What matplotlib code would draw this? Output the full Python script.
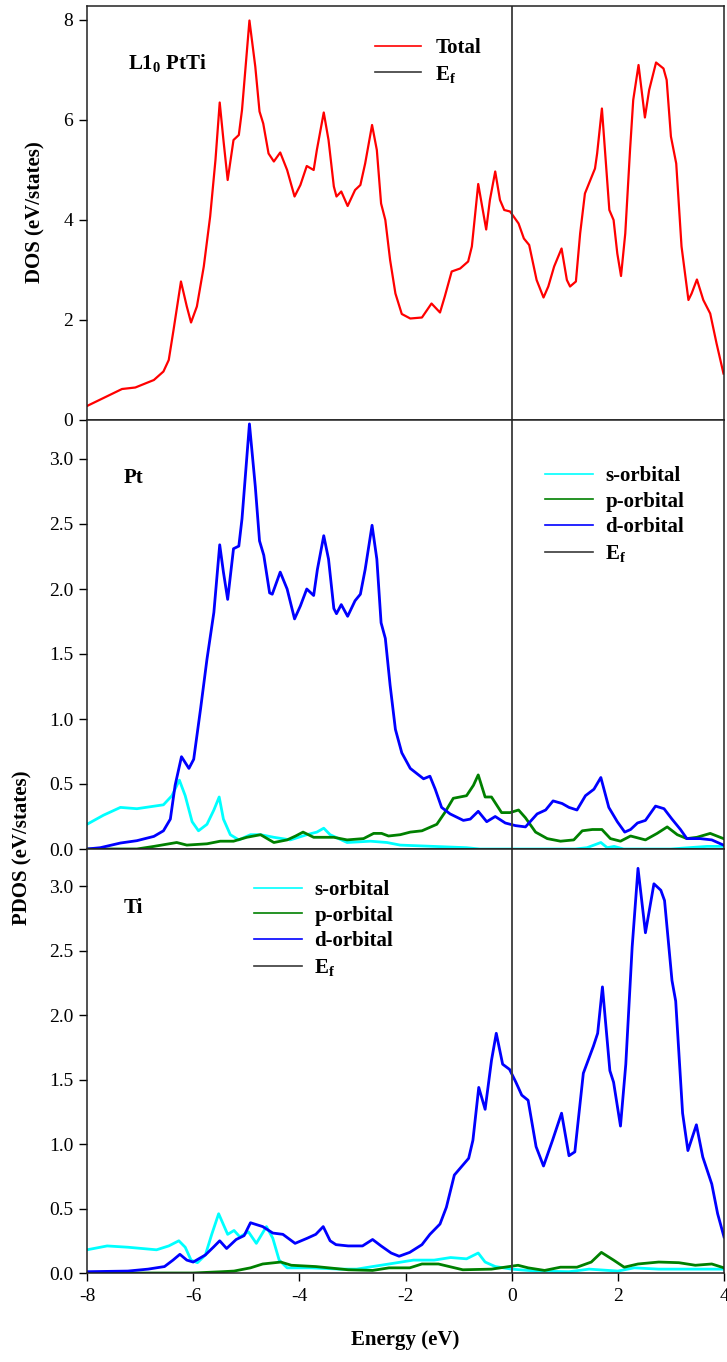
import matplotlib
matplotlib.use("Agg")
import matplotlib.pyplot as plt
from matplotlib.ticker import FormatStrFormatter, MultipleLocator

plt.rcParams['font.family'] = 'Liberation Serif'
plt.rcParams['mathtext.fontset'] = 'custom'
plt.rcParams['mathtext.rm'] = 'Liberation Serif'
plt.rcParams['mathtext.bf'] = 'Liberation Serif:bold'
plt.rcParams['axes.unicode_minus'] = False

# ---- total DOS (L1_0 PtTi) ----
tot_e = [-8.0, -7.34, -7.09, -6.74, -6.56, -6.46, -6.37, -6.23, -6.12, -6.04, -5.93, -5.80,
         -5.68, -5.58, -5.50, -5.43, -5.35, -5.24, -5.14, -5.08, -4.94, -4.83, -4.75, -4.68,
         -4.58, -4.48, -4.36, -4.23, -4.09, -3.98, -3.86, -3.73, -3.67, -3.54, -3.45, -3.35,
         -3.30, -3.21, -3.09, -2.95, -2.85, -2.76, -2.63, -2.54, -2.46, -2.38, -2.29, -2.19,
         -2.07, -1.91, -1.69, -1.51, -1.35, -1.26, -1.13, -0.97, -0.82, -0.75, -0.63, -0.48,
         -0.41, -0.31, -0.22, -0.14, -0.03, 0.13, 0.23, 0.33, 0.47, 0.60, 0.69, 0.80, 0.94,
         1.04, 1.10, 1.21, 1.29, 1.38, 1.57, 1.61, 1.70, 1.78, 1.84, 1.92, 1.99, 2.06, 2.14,
         2.23, 2.29, 2.39, 2.51, 2.59, 2.72, 2.86, 2.92, 3.00, 3.10, 3.20, 3.33, 3.39, 3.49,
         3.61, 3.74, 3.86, 3.99]
tot_dos = [0.28, 0.62, 0.65, 0.80, 0.97, 1.20, 1.80, 2.77, 2.27, 1.95, 2.27, 3.07,
           4.07, 5.20, 6.35, 5.60, 4.80, 5.60, 5.70, 6.20, 7.99, 7.07, 6.17, 5.93,
           5.33, 5.17, 5.35, 5.00, 4.47, 4.70, 5.08, 5.00, 5.40, 6.15, 5.60, 4.67,
           4.47, 4.57, 4.28, 4.60, 4.70, 5.13, 5.90, 5.40, 4.33, 4.00, 3.20, 2.53,
           2.12, 2.03, 2.05, 2.33, 2.15, 2.47, 2.97, 3.03, 3.17, 3.47, 4.72, 3.81,
           4.40, 4.97, 4.40, 4.20, 4.17, 3.93, 3.63, 3.50, 2.80, 2.45, 2.67, 3.07, 3.43,
           2.80, 2.67, 2.77, 3.73, 4.53, 5.03, 5.33, 6.23, 5.07, 4.20, 4.00, 3.33, 2.88, 3.73,
           5.40, 6.40, 7.10, 6.05, 6.60, 7.15, 7.03, 6.80, 5.67, 5.13, 3.47, 2.40, 2.53, 2.81,
           2.40, 2.13, 1.53, 0.93]

# ---- Pt projected DOS ----
pt_d_e = [-8.0, -7.75, -7.37, -7.06, -6.74, -6.56, -6.43, -6.34, -6.22, -6.08, -5.99, -5.86,
          -5.74, -5.61, -5.50, -5.43, -5.35, -5.24, -5.14, -5.08, -4.94, -4.83, -4.75, -4.67,
          -4.56, -4.51, -4.36, -4.23, -4.09, -3.98, -3.86, -3.73, -3.66, -3.54, -3.45, -3.35,
          -3.30, -3.21, -3.09, -2.95, -2.85, -2.76, -2.63, -2.54, -2.46, -2.38, -2.29, -2.19,
          -2.07, -1.91, -1.66, -1.54, -1.44, -1.32, -1.16, -0.91, -0.78, -0.63, -0.47, -0.31,
          -0.12, 0.07, 0.26, 0.48, 0.64, 0.78, 0.95, 1.08, 1.23, 1.39, 1.55, 1.68, 1.83, 1.99,
          2.13, 2.24, 2.37, 2.52, 2.71, 2.87, 3.02, 3.18, 3.30, 3.55, 3.77, 3.99]
pt_d = [0.0, 0.01, 0.046, 0.064, 0.097, 0.14, 0.23, 0.49, 0.71, 0.62, 0.69, 1.08,
        1.46, 1.82, 2.34, 2.13, 1.92, 2.31, 2.33, 2.54, 3.27, 2.79, 2.37, 2.26,
        1.97, 1.96, 2.13, 2.00, 1.77, 1.87, 2.00, 1.95, 2.15, 2.41, 2.23, 1.85,
        1.81, 1.88, 1.79, 1.91, 1.96, 2.15, 2.49, 2.23, 1.74, 1.62, 1.26, 0.92,
        0.74, 0.62, 0.54, 0.56, 0.46, 0.32, 0.27, 0.22, 0.23, 0.29, 0.21, 0.25,
        0.20, 0.18, 0.17, 0.27, 0.30, 0.37, 0.35, 0.32, 0.30, 0.41, 0.46, 0.55, 0.32, 0.21,
        0.13, 0.15, 0.20, 0.22, 0.33, 0.31, 0.23, 0.15, 0.08, 0.08, 0.07, 0.03]

pt_p_e = [-8.0, -7.06, -6.74, -6.31, -6.12, -5.74, -5.49, -5.24, -4.99, -4.73, -4.48, -4.23,
          -4.07, -3.93, -3.73, -3.35, -3.10, -2.79, -2.60, -2.45, -2.32, -2.10, -1.91, -1.69,
          -1.41, -1.26, -1.10, -0.85, -0.72, -0.63, -0.50, -0.38, -0.19, -0.03, 0.13, 0.26,
          0.45, 0.67, 0.92, 1.17, 1.33, 1.52, 1.70, 1.86, 2.05, 2.24, 2.52, 2.74, 2.93, 3.12,
          3.30, 3.49, 3.74, 3.99]
pt_p = [0.0, 0.0, 0.02, 0.05, 0.03, 0.04, 0.06, 0.06, 0.09, 0.11, 0.05, 0.07,
        0.10, 0.13, 0.09, 0.09, 0.07, 0.08, 0.12, 0.12, 0.10, 0.11, 0.13, 0.14,
        0.19, 0.28, 0.39, 0.41, 0.49, 0.57, 0.40, 0.40, 0.28, 0.28, 0.30, 0.24,
        0.13, 0.08, 0.06, 0.07, 0.14, 0.15, 0.15, 0.08, 0.06, 0.10, 0.07, 0.12, 0.17, 0.11,
        0.08, 0.09, 0.12, 0.08]

pt_s_e = [-8.0, -7.69, -7.37, -7.06, -6.56, -6.40, -6.26, -6.15, -6.02, -5.90, -5.74, -5.61,
          -5.51, -5.43, -5.30, -5.14, -4.92, -4.73, -4.48, -4.17, -3.86, -3.67, -3.54, -3.42,
          -3.10, -2.66, -2.35, -2.10, -1.47, -0.85, -0.60, 0.5, 1.20, 1.42, 1.68, 1.80, 1.93,
          2.11, 3.0, 3.68, 3.99]
pt_s = [0.19, 0.26, 0.32, 0.31, 0.34, 0.41, 0.53, 0.41, 0.21, 0.14, 0.19, 0.30,
        0.40, 0.23, 0.11, 0.07, 0.11, 0.11, 0.09, 0.07, 0.11, 0.13, 0.16, 0.11,
        0.05, 0.06, 0.05, 0.03, 0.02, 0.01, 0.0, 0.0, 0.0, 0.01, 0.05, 0.01, 0.02,
        0.0, 0.0, 0.02, 0.02]

# ---- Ti projected DOS ----
ti_d_e = [-8.0, -7.23, -6.85, -6.54, -6.38, -6.25, -6.12, -6.0, -5.77, -5.62, -5.50, -5.37,
          -5.19, -5.04, -4.92, -4.69, -4.50, -4.31, -4.08, -3.85, -3.69, -3.55, -3.42, -3.31,
          -3.08, -2.81, -2.62, -2.46, -2.27, -2.12, -1.92, -1.69, -1.54, -1.35, -1.23, -1.08,
          -0.81, -0.73, -0.62, -0.50, -0.38, -0.29, -0.17, -0.04, 0.08, 0.19, 0.31, 0.46, 0.60,
          0.77, 0.94, 1.08, 1.19, 1.35, 1.54, 1.62, 1.71, 1.85, 1.92, 2.05, 2.15, 2.27, 2.38,
          2.52, 2.68, 2.81, 2.88, 3.02, 3.09, 3.22, 3.32, 3.48, 3.60, 3.77, 3.88, 4.0]
ti_d = [0.01, 0.015, 0.03, 0.05, 0.10, 0.145, 0.10, 0.085, 0.14, 0.20, 0.25, 0.19,
        0.26, 0.29, 0.39, 0.36, 0.31, 0.30, 0.23, 0.27, 0.30, 0.36, 0.25, 0.22,
        0.21, 0.21, 0.26, 0.21, 0.155, 0.13, 0.16, 0.22, 0.30, 0.38, 0.51, 0.76,
        0.89, 1.03, 1.44, 1.27, 1.65, 1.86, 1.62, 1.58, 1.48, 1.38, 1.34, 0.98, 0.83,
        1.03, 1.24, 0.91, 0.94, 1.55, 1.76, 1.86, 2.22, 1.57, 1.48, 1.14, 1.62, 2.53, 3.14,
        2.64, 3.02, 2.97, 2.89, 2.27, 2.11, 1.24, 0.95, 1.15, 0.90, 0.69, 0.46, 0.28]

ti_s_e = [-8.0, -7.62, -7.23, -6.69, -6.46, -6.27, -6.15, -6.04, -5.92, -5.77, -5.65, -5.52,
          -5.35, -5.23, -5.12, -4.96, -4.81, -4.62, -4.50, -4.38, -4.23, -3.77, -3.23, -2.92,
          -2.62, -2.31, -1.85, -1.46, -1.15, -0.85, -0.63, -0.50, -0.31, 0.0, 0.46, 1.08,
          1.46, 2.0, 2.31, 2.77, 3.23, 4.0]
ti_s = [0.18, 0.21, 0.20, 0.18, 0.21, 0.25, 0.20, 0.10, 0.08, 0.14, 0.30, 0.46,
        0.30, 0.33, 0.28, 0.32, 0.23, 0.36, 0.27, 0.10, 0.04, 0.04, 0.03, 0.03,
        0.05, 0.07, 0.10, 0.10, 0.12, 0.11, 0.155, 0.085, 0.05, 0.03, 0.015, 0.01,
        0.03, 0.015, 0.04, 0.03, 0.03, 0.03]

ti_p_e = [-8.0, -6.0, -5.46, -5.23, -4.92, -4.69, -4.35, -4.15, -3.69, -3.08, -2.62, -2.31,
          -1.92, -1.69, -1.38, -0.92, -0.38, 0.12, 0.31, 0.62, 0.92, 1.23, 1.50, 1.69, 1.92,
          2.12, 2.38, 2.77, 3.15, 3.46, 3.77, 4.0]
ti_p = [0.0, 0.0, 0.01, 0.015, 0.04, 0.07, 0.085, 0.06, 0.05, 0.025, 0.02, 0.04,
        0.04, 0.07, 0.07, 0.025, 0.03, 0.06, 0.04, 0.02, 0.045, 0.045, 0.085, 0.16, 0.10,
        0.045, 0.07, 0.085, 0.08, 0.06, 0.07, 0.04]

RED, CYAN, GREEN, BLUE = '#ff0000', '#00ffff', '#008000', '#0000ff'
EF_COLOR = '#3a3a3a'
EF_LABEL = r'$\mathbf{E_f}$'

W, H = 727, 1362
fig = plt.figure(figsize=(W / 100, H / 100), dpi=100)

left = 87 / W
width = (724 - 87) / W


def add_panel(top_px, bot_px):
    return fig.add_axes([left, 1 - bot_px / H, width, (bot_px - top_px) / H])


ax_tot = add_panel(6, 420)
ax_pt = add_panel(420, 849)
ax_ti = add_panel(849, 1273)

ax_tot.plot(tot_e, tot_dos, color=RED, lw=1.6, label='Total')

ax_pt.plot(pt_s_e, pt_s, color=CYAN, lw=2, label='s-orbital')
ax_pt.plot(pt_p_e, pt_p, color=GREEN, lw=2, label='p-orbital')
ax_pt.plot(pt_d_e, pt_d, color=BLUE, lw=2, label='d-orbital')

ax_ti.plot(ti_s_e, ti_s, color=CYAN, lw=2, label='s-orbital')
ax_ti.plot(ti_p_e, ti_p, color=GREEN, lw=2, label='p-orbital')
ax_ti.plot(ti_d_e, ti_d, color=BLUE, lw=2, label='d-orbital')

for ax in (ax_tot, ax_pt, ax_ti):
    ax.axvline(0, color=EF_COLOR, lw=1.3, label=EF_LABEL)
    ax.set_xlim(-8, 4)
    for sp in ax.spines.values():
        sp.set_linewidth(1.1)
        sp.set_color('#222222')
    ax.tick_params(axis='y', direction='out', length=6, width=1, pad=4, labelsize=14)
    ax.tick_params(axis='x', direction='out', length=6, width=1, pad=5, labelsize=14)

ax_tot.set_ylim(0, 8.28)
ax_tot.yaxis.set_major_locator(MultipleLocator(2))
ax_pt.set_ylim(0, 3.3)
ax_ti.set_ylim(0, 3.29)
for ax in (ax_pt, ax_ti):
    ax.yaxis.set_major_locator(MultipleLocator(0.5))
    ax.yaxis.set_major_formatter(FormatStrFormatter('%.1f'))

for ax in (ax_tot, ax_pt):
    ax.tick_params(axis='x', bottom=False, labelbottom=False)
ax_ti.xaxis.set_major_locator(MultipleLocator(2))

ax_ti.set_xlabel('Energy (eV)', fontsize=15, fontweight='bold', labelpad=18)
fig.text(35 / W, 1 - 212 / H, 'DOS (eV/states)', rotation=90, fontsize=15,
         fontweight='bold', ha='center', va='center')
fig.text(22 / W, 1 - 848 / H, 'PDOS (eV/states)', rotation=90, fontsize=15,
         fontweight='bold', ha='center', va='center')

fig.text(128 / W, 1 - 64 / H, r'L1$_\mathbf{0}$ PtTi', fontsize=15, fontweight='bold',
         ha='left', va='center')
fig.text(124 / W, 1 - 478 / H, 'Pt', fontsize=15, fontweight='bold', ha='left', va='center')
fig.text(124 / W, 1 - 908 / H, 'Ti', fontsize=15, fontweight='bold', ha='left', va='center')


def place_legend(ax, x_px, y_px, hl, pad):
    leg = ax.legend(loc='upper left', bbox_to_anchor=(x_px / W, 1 - y_px / H),
                    bbox_transform=fig.transFigure, frameon=False, borderpad=0,
                    borderaxespad=0, handlelength=hl, handletextpad=pad,
                    labelspacing=0.27, prop={'size': 15, 'weight': 'bold'})
    for line in leg.get_lines():
        line.set_linewidth(1.2)
    return leg


place_legend(ax_tot, 375, 38, 2.2, 0.7)
place_legend(ax_pt, 545, 466, 2.3, 0.6)
place_legend(ax_ti, 254, 880, 2.3, 0.6)

fig.savefig('out.png', dpi=100)
